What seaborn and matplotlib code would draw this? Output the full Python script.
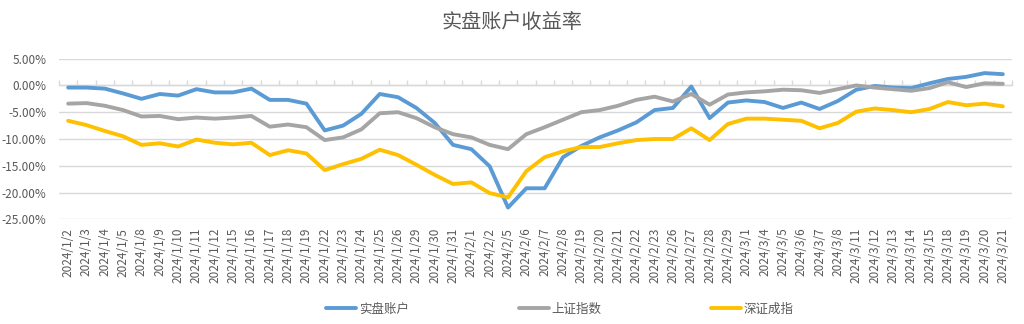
import matplotlib
matplotlib.use("Agg")
import matplotlib.pyplot as plt
import seaborn as sns
import pandas as pd
import numpy as np
from matplotlib.ticker import FuncFormatter, FixedLocator
from matplotlib.lines import Line2D

dates = ["2024/1/2", "2024/1/3", "2024/1/4", "2024/1/5", "2024/1/8", "2024/1/9", "2024/1/10",
         "2024/1/11", "2024/1/12", "2024/1/15", "2024/1/16", "2024/1/17", "2024/1/18", "2024/1/19",
         "2024/1/22", "2024/1/23", "2024/1/24", "2024/1/25", "2024/1/26", "2024/1/29", "2024/1/30",
         "2024/1/31", "2024/2/1", "2024/2/2", "2024/2/5", "2024/2/6", "2024/2/7", "2024/2/8",
         "2024/2/19", "2024/2/20", "2024/2/21", "2024/2/22", "2024/2/23", "2024/2/26", "2024/2/27",
         "2024/2/28", "2024/2/29", "2024/3/1", "2024/3/4", "2024/3/5", "2024/3/6", "2024/3/7",
         "2024/3/8", "2024/3/11", "2024/3/12", "2024/3/13", "2024/3/14", "2024/3/15", "2024/3/18",
         "2024/3/19", "2024/3/20", "2024/3/21"]

account = [-0.4, -0.4, -0.6, -1.5, -2.5, -1.6, -1.9, -0.7, -1.3, -1.3, -0.6, -2.7, -2.7, -3.4, -8.4, -7.5,
           -5.3, -1.6, -2.2, -4.2, -7.0, -11.1, -11.9, -15.1, -22.8, -19.2, -19.2, -13.4, -11.3, -9.7, -8.4, -6.9, -4.6, -4.2,
           -0.2, -6.1, -3.2, -2.8, -3.1, -4.2, -3.2, -4.4, -2.9, -0.8, -0.1, -0.4, -0.5, 0.4, 1.2, 1.6, 2.3, 2.1]

shanghai = [-3.4, -3.3, -3.8, -4.6, -5.8, -5.7, -6.3, -6.0, -6.2, -6.0, -5.7, -7.7, -7.3, -7.8, -10.2, -9.7,
            -8.2, -5.2, -5.0, -6.1, -7.8, -9.1, -9.7, -11.1, -11.9, -9.1, -7.8, -6.4, -5.0, -4.6, -3.8, -2.7, -2.1, -3.0,
            -1.6, -3.6, -1.7, -1.3, -1.1, -0.8, -0.9, -1.4, -0.7, 0.0, -0.4, -0.7, -1.0, -0.5, 0.6, -0.3, 0.4, 0.3]

shenzhen = [-6.6, -7.4, -8.5, -9.5, -11.1, -10.8, -11.4, -10.1, -10.7, -11.0, -10.7, -13.0, -12.1, -12.7, -15.8, -14.7,
            -13.7, -12.0, -13.0, -14.8, -16.7, -18.4, -18.1, -20.1, -20.9, -16.0, -13.4, -12.3, -11.5, -11.5, -10.8, -10.2, -10.0, -10.0,
            -8.0, -10.2, -7.2, -6.2, -6.2, -6.4, -6.6, -8.0, -7.0, -4.9, -4.3, -4.6, -5.0, -4.4, -3.1, -3.7, -3.4, -3.9]

series_names = ["实盘账户", "上证指数", "深证成指"]
colors = ["#5B9BD5", "#A5A5A5", "#FFC000"]
y_ticks = [5, 0, -5, -10, -15, -20, -25]
title = "实盘账户收益率"

sns.set_theme(style="white")
plt.rcParams["font.family"] = ["Noto Sans CJK SC", "DejaVu Sans"]
text_color = "#595959"
grid_color = "#D9D9D9"

df = pd.DataFrame({
    "date": dates * 3,
    "value": account + shanghai + shenzhen,
    "series": [series_names[0]] * len(dates) + [series_names[1]] * len(dates) + [series_names[2]] * len(dates),
})
df["pos"] = list(range(len(dates))) * 3

fig = plt.figure(figsize=(10.24, 3.24), dpi=100)
ax = fig.add_axes([0.0576, 0.323, 0.9307, 0.496])
ax2 = ax.twiny()

sns.lineplot(data=df, x="pos", y="value", hue="series", palette=colors,
             hue_order=series_names, linewidth=2.8, ax=ax, sort=False, legend=False)

n = len(dates)
ax.set_xlim(-0.5, n - 0.5)
ax.set_ylim(min(y_ticks), max(y_ticks))
ax.yaxis.set_major_locator(FixedLocator(y_ticks))
ax.yaxis.set_major_formatter(FuncFormatter(lambda v, p: f"{v:.2f}%"))
ax.set_xticks(range(n))
ax.set_xticklabels(dates, rotation=90, fontsize=8.5, color=text_color)
ax.tick_params(axis="x", length=0, pad=6)
ax.tick_params(axis="y", length=0, pad=9, labelsize=8.5, labelcolor=text_color)
ax.grid(axis="y", color=grid_color, linewidth=1)
ax.grid(axis="x", visible=False)
for s in ax.spines.values():
    s.set_visible(False)
ax.set_xlabel("")
ax.set_ylabel("")

# category axis crossing at 0 with tick marks between categories
ax2.set_xlim(-0.5, n - 0.5)
for s in ["top", "left", "right"]:
    ax2.spines[s].set_visible(False)
ax2.spines["bottom"].set_visible(True)
ax2.spines["bottom"].set_position(("data", 0))
ax2.spines["bottom"].set_color(grid_color)
ax2.spines["bottom"].set_linewidth(1)
ax2.xaxis.set_ticks_position("bottom")
ax2.set_xticks(np.arange(-0.5, n, 1.0))
ax2.set_xticklabels([])
ax2.tick_params(axis="x", direction="in", length=3.5, color=grid_color, width=1)
ax2.set_zorder(0)
ax.set_zorder(1)
ax.patch.set_visible(False)

fig.text(0.5, 1 - 23 / 324, title, ha="center", va="center", fontsize=14.5, color=text_color)

handles = [Line2D([0], [0], color=c, linewidth=2.8) for c in colors]
fig.legend(handles, series_names, loc="center", bbox_to_anchor=(0.547, 1 - 309 / 324), ncol=3,
           frameon=False, fontsize=9, handlelength=2.4, handletextpad=0.2, columnspacing=8.8,
           labelcolor=text_color)

fig.savefig("out.png", dpi=100)
